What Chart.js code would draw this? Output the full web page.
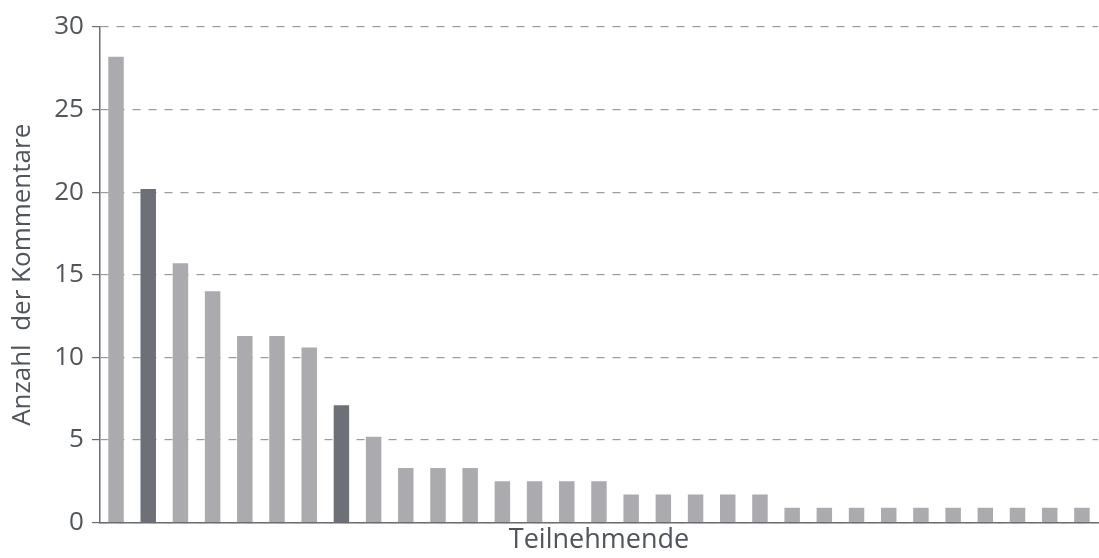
<!DOCTYPE html>
<html lang="de">
<head>
  <meta charset="UTF-8">
  <title>Kommentare je Teilnehmende</title>
  <script src="https://cdn.jsdelivr.net/npm/chart.js"></script>
  <style>
    html, body {
      margin: 0;
      padding: 0;
      background: #fff;
    }
    .container {
      width: 1099px;
      height: 558px;
    }
  </style>
</head>
<body>

<div class="container">
  <canvas id="grafico"></canvas>
</div>

<script>
  // Teilnehmende (Kategorien) und Anzahl der Kommentare
  const teilnehmende = ["1", "2", "3", "4", "5", "6", "7", "8", "9", "10",
    "11", "12", "13", "14", "15", "16", "17", "18", "19", "20",
    "21", "22", "23", "24", "25", "26", "27", "28", "29", "30", "31"];
  const kommentare = [28.2, 20.2, 15.7, 14.0, 11.3, 11.3, 10.6, 7.1, 5.2,
    3.3, 3.3, 3.3, 2.5, 2.5, 2.5, 2.5, 1.7, 1.7, 1.7, 1.7, 1.7,
    0.9, 0.9, 0.9, 0.9, 0.9, 0.9, 0.9, 0.9, 0.9, 0.9];
  const hervorgehoben = [1, 7];
  const yTicks = [0, 5, 10, 15, 20, 25, 30];

  const HELL = "#aaaaaf";
  const DUNKEL = "#6e7078";
  const TEXT = "#50545c";
  const ACHSE = "#6a6d75";

  const farben = kommentare.map((v, i) => hervorgehoben.includes(i) ? DUNKEL : HELL);

  const ctx = document.getElementById("grafico").getContext("2d");

  new Chart(ctx, {
    type: "bar",
    data: {
      labels: teilnehmende,
      datasets: [{
        label: "Anzahl der Kommentare",
        data: kommentare,
        backgroundColor: farben,
        borderWidth: 0,
        barPercentage: 0.48,
        categoryPercentage: 1.0
      }]
    },
    options: {
      responsive: true,
      maintainAspectRatio: false,
      animation: false,
      layout: { padding: { top: 27, right: 1, left: 7, bottom: 0 } },
      plugins: {
        legend: { display: false },
        tooltip: { enabled: false }
      },
      scales: {
        x: {
          grid: { display: false, drawTicks: false },
          border: { display: true, color: ACHSE, width: 1.5 },
          ticks: { display: false },
          title: {
            display: true,
            text: "Teilnehmende",
            color: TEXT,
            font: { family: "Open Sans", size: 27 },
            padding: { top: 2, bottom: 1 }
          }
        },
        y: {
          min: 0,
          max: 30,
          afterBuildTicks: (axis) => {
            axis.ticks = yTicks.map(v => ({ value: v }));
          },
          grid: {
            color: "#9a9aa0",
            lineWidth: 1.2,
            tickLength: 8,
            tickColor: ACHSE,
            tickBorderDash: [],
            drawTicks: true
          },
          border: { display: true, color: ACHSE, width: 1.5, dash: [8, 8] },
          ticks: {
            color: TEXT,
            padding: 8,
            font: { family: "Open Sans", size: 26 }
          },
          title: {
            display: true,
            text: "Anzahl  der Kommentare",
            color: TEXT,
            font: { family: "Open Sans", size: 26 },
            padding: { top: 0, bottom: 8 }
          }
        }
      }
    }
  });
</script>

</body>
</html>
